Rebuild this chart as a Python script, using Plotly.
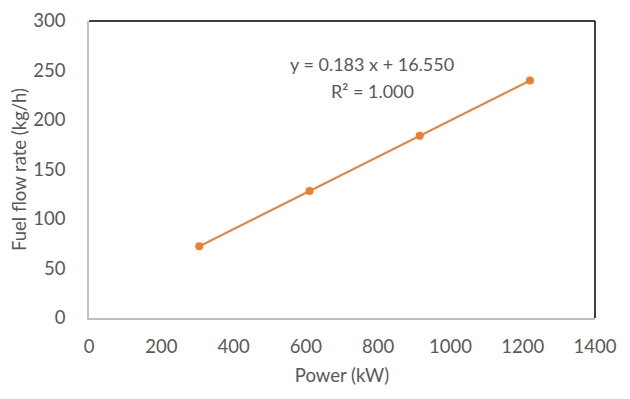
import plotly.graph_objects as go

power_kw = [305, 610, 915, 1220]
fuel_flow = [72.4, 128.2, 184.0, 239.8]
eq_text = "y = 0.183 x + 16.550"
r2_text = "R² = 1.000"
x_ticks = [0, 200, 400, 600, 800, 1000, 1200, 1400]
y_ticks = [0, 50, 100, 150, 200, 250, 300]

FONT = "Lato"
GREY = "#595959"
ORANGE = "#ED7D31"
FS = 18.5

fig = go.Figure()
fig.add_trace(go.Scatter(
    x=power_kw, y=fuel_flow, mode="lines+markers",
    line=dict(color=ORANGE, width=2),
    marker=dict(color=ORANGE, size=8),
    showlegend=False,
))

fig.add_annotation(x=784, y=257, xref="x", yref="y", text=eq_text, showarrow=False,
                   font=dict(family=FONT, size=18, color=GREY))
fig.add_annotation(x=784, y=229, xref="x", yref="y", text=r2_text, showarrow=False,
                   font=dict(family=FONT, size=18, color=GREY))

# top and right border in black
fig.add_shape(type="line", xref="paper", yref="paper", x0=0, x1=1, y0=1, y1=1,
              line=dict(color="black", width=1.5))
fig.add_shape(type="line", xref="paper", yref="paper", x0=1, x1=1, y0=0, y1=1,
              line=dict(color="black", width=1.5))

fig.update_xaxes(
    range=[0, 1400], tickvals=x_ticks, showgrid=False, zeroline=False,
    showline=True, linecolor="#BFBFBF", linewidth=1.5,
    ticks="", ticklabelstandoff=11,
    tickfont=dict(family=FONT, size=FS, color=GREY),
    title=dict(text="Power (kW)", font=dict(family=FONT, size=FS, color=GREY), standoff=13),
)
fig.update_yaxes(
    range=[0, 300], tickvals=y_ticks, showgrid=False, zeroline=False,
    showline=True, linecolor="#BFBFBF", linewidth=1.5,
    ticks="", ticklabelstandoff=18,
    tickfont=dict(family=FONT, size=FS, color=GREY),
    title=dict(text="Fuel flow rate (kg/h)", font=dict(family=FONT, size=FS, color=GREY), standoff=6),
)

fig.update_layout(
    width=630, height=399,
    margin=dict(l=81, r=43, t=13, b=89, autoexpand=False),
    plot_bgcolor="white", paper_bgcolor="white",
)

fig.write_html("out.html")
